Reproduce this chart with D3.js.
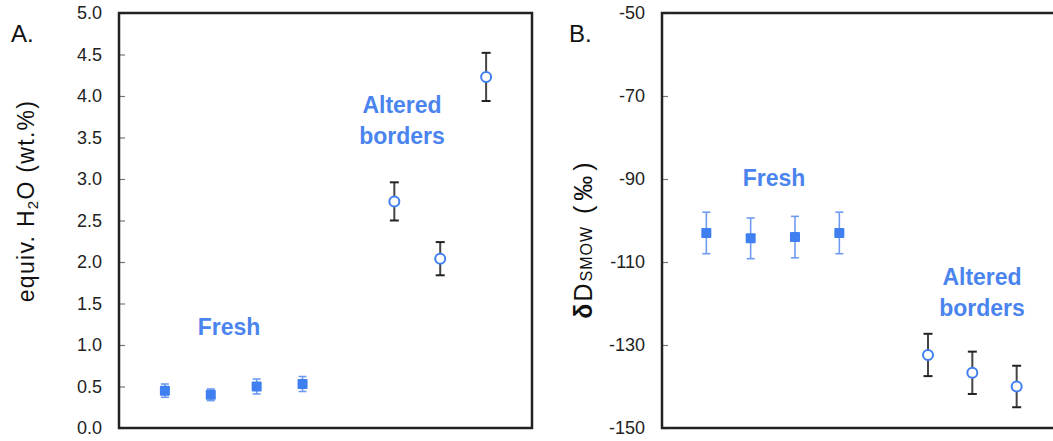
<!DOCTYPE html>
<html>
<head>
<meta charset="utf-8">
<script src="https://cdn.jsdelivr.net/npm/d3@7"></script>
<style>
  body { margin: 0; background: #fff; }
  svg text { font-family: "Liberation Sans", Arial, Helvetica, sans-serif; }
  .tick text { fill: #222; font-size: 18px; }
  .tick line { stroke: #777; stroke-width: 1.2; }
  .domain { display: none; }
</style>
</head>
<body>
<script>
// sample positions along the x axis (no labels)
var freshPos = [1, 2, 3, 4];
var alteredPos = [6, 7, 8];

// panel A: equivalent H2O (wt.%)
var freshH2O = [0.45, 0.40, 0.50, 0.53];
var freshH2OErr = [0.08, 0.07, 0.09, 0.09];
var alteredH2O = [2.73, 2.04, 4.23];
var alteredH2OErr = [0.23, 0.20, 0.29];
var ticksA = [0, 0.5, 1, 1.5, 2, 2.5, 3, 3.5, 4, 4.5, 5];

// panel B: deltaD SMOW (permil)
var freshDD = [-103.0, -104.3, -104.0, -103.0];
var freshDDErr = [5, 4.9, 5, 5];
var alteredDD = [-132.4, -136.7, -140.0];
var alteredDDErr = [5.1, 5.1, 5.0];
var ticksB = [-150, -130, -110, -90, -70, -50];

var blue = "#3f7ff0",
    textBlue = "#4a84ee";

var svg = d3.select("body").append("svg")
    .attr("width", 1053)
    .attr("height", 441);

function zip(xs, ys, es) {
  return xs.map(function(x, i) { return {x: x, y: ys[i], e: es[i]}; });
}

function panel(opt) {
  var x = d3.scaleLinear().domain([0, 9]).range([opt.left, opt.right]);
  var y = d3.scaleLinear().domain(opt.domain).range([428, 13]);

  var g = svg.append("g");

  g.append("g")
      .attr("transform", "translate(" + opt.left + ",0)")
      .call(d3.axisLeft(y).tickValues(opt.ticks).tickSize(-6).tickPadding(17)
        .tickFormat(opt.format));

  g.append("rect")
      .attr("x", opt.left)
      .attr("y", 13)
      .attr("width", opt.right - opt.left)
      .attr("height", 415)
      .attr("fill", "none")
      .attr("stroke", "#222")
      .attr("stroke-width", 2.5);

  // fresh: blue error bars + filled squares
  var fresh = g.append("g").selectAll("g")
      .data(zip(freshPos, opt.fresh, opt.freshErr))
    .enter().append("g");
  fresh.append("line")
      .attr("x1", function(d) { return x(d.x); })
      .attr("x2", function(d) { return x(d.x); })
      .attr("y1", function(d) { return y(d.y - d.e); })
      .attr("y2", function(d) { return y(d.y + d.e); })
      .attr("stroke", "#6f9bf0").attr("stroke-width", 1.6);
  [-1, 1].forEach(function(s) {
    fresh.append("line")
        .attr("x1", function(d) { return x(d.x) - 4; })
        .attr("x2", function(d) { return x(d.x) + 4; })
        .attr("y1", function(d) { return y(d.y + s * d.e); })
        .attr("y2", function(d) { return y(d.y + s * d.e); })
        .attr("stroke", "#6f9bf0").attr("stroke-width", 1.6);
  });
  fresh.append("rect")
      .attr("x", function(d) { return x(d.x) - 5; })
      .attr("y", function(d) { return y(d.y) - 5; })
      .attr("width", 10).attr("height", 10)
      .attr("rx", 1)
      .attr("fill", blue);

  // altered borders: dark error bars + open circles
  var alt = g.append("g").selectAll("g")
      .data(zip(alteredPos, opt.altered, opt.alteredErr))
    .enter().append("g");
  alt.append("line")
      .attr("x1", function(d) { return x(d.x); })
      .attr("x2", function(d) { return x(d.x); })
      .attr("y1", function(d) { return y(d.y - d.e); })
      .attr("y2", function(d) { return y(d.y + d.e); })
      .attr("stroke", "#444").attr("stroke-width", 2);
  [-1, 1].forEach(function(s) {
    alt.append("line")
        .attr("x1", function(d) { return x(d.x) - 4.5; })
        .attr("x2", function(d) { return x(d.x) + 4.5; })
        .attr("y1", function(d) { return y(d.y + s * d.e); })
        .attr("y2", function(d) { return y(d.y + s * d.e); })
        .attr("stroke", "#222").attr("stroke-width", 2);
  });
  alt.append("circle")
      .attr("cx", function(d) { return x(d.x); })
      .attr("cy", function(d) { return y(d.y); })
      .attr("r", 5)
      .attr("fill", "#fff")
      .attr("stroke", blue)
      .attr("stroke-width", 2);

  // group labels
  g.append("text")
      .attr("x", opt.freshLabel[0]).attr("y", opt.freshLabel[1])
      .attr("text-anchor", "middle")
      .attr("font-size", 23).attr("font-weight", "bold")
      .attr("fill", textBlue)
      .text("Fresh");
  g.append("text")
      .attr("x", opt.altLabel[0]).attr("y", opt.altLabel[1])
      .attr("text-anchor", "middle")
      .attr("font-size", 23).attr("font-weight", "bold")
      .attr("fill", textBlue)
      .text("Altered");
  g.append("text")
      .attr("x", opt.altLabel[0]).attr("y", opt.altLabel[1] + 31)
      .attr("text-anchor", "middle")
      .attr("font-size", 23).attr("font-weight", "bold")
      .attr("fill", textBlue)
      .text("borders");

  g.append("text")
      .attr("x", opt.letter[0]).attr("y", 42)
      .attr("font-size", 24)
      .attr("fill", "#111")
      .text(opt.letter[1]);

  return g;
}

var gA = panel({
  left: 119, right: 532,
  domain: [0, 5], ticks: ticksA, format: d3.format(".1f"),
  fresh: freshH2O, freshErr: freshH2OErr,
  altered: alteredH2O, alteredErr: alteredH2OErr,
  freshLabel: [229, 335], altLabel: [402, 113],
  letter: [11, "A."]
});

var gB = panel({
  left: 662, right: 1061,
  domain: [-150, -50], ticks: ticksB,
  format: function(d) { return String(d); },   // plain hyphen, like the original
  fresh: freshDD, freshErr: freshDDErr,
  altered: alteredDD, alteredErr: alteredDDErr,
  freshLabel: [774, 186], altLabel: [982, 285],
  letter: [569, "B."]
});

// y axis titles
var tA = gA.append("text")
    .attr("transform", "translate(34,201) rotate(-90)")
    .attr("text-anchor", "middle")
    .attr("font-size", 23)
    .attr("letter-spacing", 1.3)
    .attr("fill", "#111");
tA.append("tspan").text("equiv. H");
tA.append("tspan").attr("font-size", 15).attr("dy", 4).text("2");
tA.append("tspan").attr("dy", -4).text("O (wt.%)");

var tB = gB.append("text")
    .attr("transform", "translate(592,238) rotate(-90)")
    .attr("text-anchor", "middle")
    .attr("font-size", 25)
    .attr("letter-spacing", 2)
    .attr("fill", "#111");
tB.append("tspan").attr("font-weight", "bold").text("δ");
tB.append("tspan").text("D");
tB.append("tspan").attr("font-size", 16).attr("letter-spacing", 1).text("SMOW");
tB.append("tspan").attr("letter-spacing", 5).text(" (‰)");
</script>
</body>
</html>
